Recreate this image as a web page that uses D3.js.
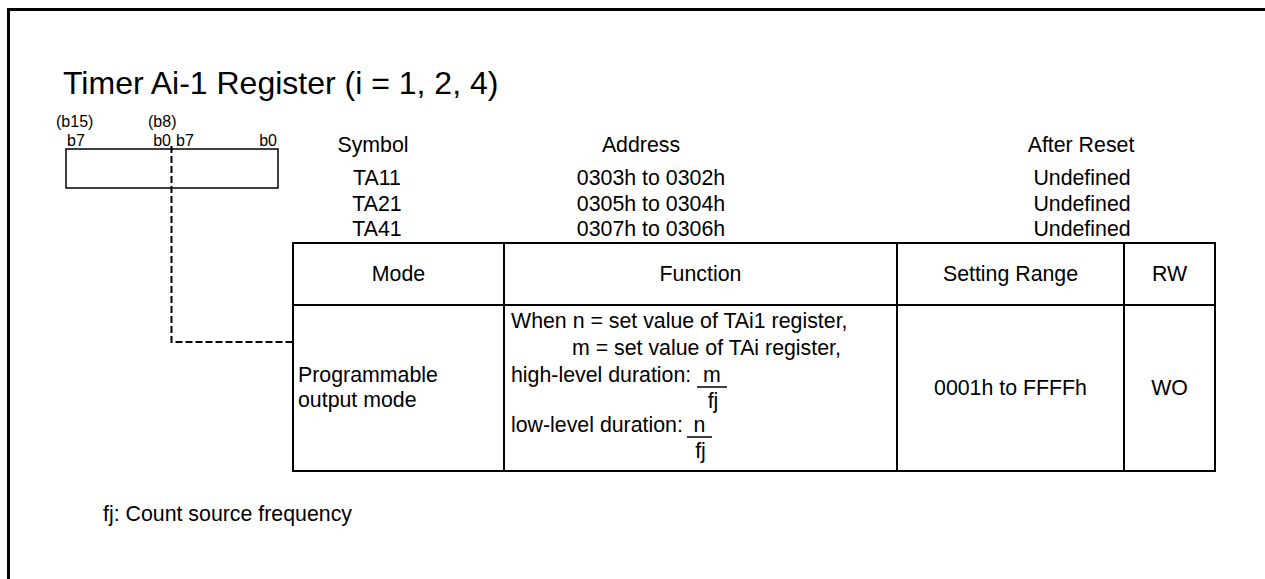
<!DOCTYPE html>
<html>
<head>
<meta charset="utf-8">
<script src="https://cdn.jsdelivr.net/npm/d3@7/dist/d3.min.js"></script>
<style>
html,body{margin:0;padding:0;background:#fff;}
svg text{font-family:"Liberation Sans",Arial,Helvetica,sans-serif;fill:#000;}
</style>
</head>
<body>
<svg id="c" width="1265" height="579"></svg>
<script>
// ---- data ----
const title = "Timer Ai-1 Register (i = 1, 2, 4)";
const bitUpper = ["(b15)", "(b8)"];
const bitLabels = ["b7", "b0", "b7", "b0"];
const infoHeaders = ["Symbol", "Address", "After Reset"];
const symbols = ["TA11", "TA21", "TA41"];
const addresses = ["0303h to 0302h", "0305h to 0304h", "0307h to 0306h"];
const afterReset = ["Undefined", "Undefined", "Undefined"];
const tableHeaders = ["Mode", "Function", "Setting Range", "RW"];
const modeLines = ["Programmable", "output mode"];
const functionLines = ["When n = set value of TAi1 register,", "m = set value of TAi register,", "high-level duration:", "low-level duration:"];
const fractions = [{num: "m", den: "fj"}, {num: "n", den: "fj"}];
const settingRange = "0001h to FFFFh";
const rw = "WO";
const footnote = "fj: Count source frequency";

// ---- layout ----
const svg = d3.select("#c");
const F = 21.33;

// frame
svg.append("path").attr("d", "M8.5,579 V9.5 H1265").attr("fill", "none").attr("stroke", "#000").attr("stroke-width", 3);

svg.append("text").attr("x", 63).attr("y", 94).attr("font-size", 32).text(title);

// register box
const bx = d3.scaleLinear().domain([0, 16]).range([66, 278]);
svg.append("rect").attr("x", bx(0)).attr("y", 149).attr("width", bx(16) - bx(0)).attr("height", 39)
  .attr("fill", "none").attr("stroke", "#000").attr("stroke-width", 1.5);
svg.selectAll("text.bu").data(bitUpper).join("text").attr("class", "bu")
  .attr("x", (d, i) => i === 0 ? 56 : 148).attr("y", 127).attr("font-size", 16).text(d => d);
const bitPos = [{x: bx(0) + 1, a: "start"}, {x: bx(8) - 1, a: "end"}, {x: bx(8) + 4, a: "start"}, {x: bx(16) - 1, a: "end"}];
svg.selectAll("text.bl").data(bitLabels).join("text").attr("class", "bl")
  .attr("x", (d, i) => bitPos[i].x).attr("y", 146).attr("text-anchor", (d, i) => bitPos[i].a)
  .attr("font-size", 16).text(d => d);

// dashed connector
const mid = bx(8) - 0.5;
svg.append("path").attr("d", `M${mid},146 V342 H293`).attr("fill", "none").attr("stroke", "#000")
  .attr("stroke-width", 2).attr("stroke-dasharray", "7,3");

// info block
const infoX = [373, 641, 1081];
const valX = [377, 651, 1082];
svg.selectAll("text.ih").data(infoHeaders).join("text").attr("class", "ih")
  .attr("x", (d, i) => infoX[i]).attr("y", 152).attr("text-anchor", "middle").attr("font-size", F).text(d => d);
const rowY = d3.scalePoint().domain(symbols).range([185, 236]);
[symbols, addresses, afterReset].forEach((col, ci) => {
  svg.selectAll(null).data(col).join("text")
    .attr("x", valX[ci]).attr("y", (d, i) => rowY(symbols[i])).attr("text-anchor", "middle")
    .attr("font-size", F).text(d => d);
});

// table
const colEdges = [293, 504, 897, 1124, 1215];
const rowEdges = [243, 305, 471];
const tg = svg.append("g").attr("stroke", "#000").attr("stroke-width", 2);
tg.append("rect").attr("x", colEdges[0]).attr("y", rowEdges[0]).attr("width", colEdges[4] - colEdges[0])
  .attr("height", rowEdges[2] - rowEdges[0]).attr("fill", "none");
tg.append("line").attr("x1", colEdges[0]).attr("x2", colEdges[4]).attr("y1", rowEdges[1]).attr("y2", rowEdges[1]);
colEdges.slice(1, 4).forEach(x => tg.append("line").attr("x1", x).attr("x2", x).attr("y1", rowEdges[0]).attr("y2", rowEdges[2]));

svg.selectAll("text.th").data(tableHeaders).join("text").attr("class", "th")
  .attr("x", (d, i) => (colEdges[i] + colEdges[i + 1]) / 2).attr("y", 281).attr("text-anchor", "middle")
  .attr("font-size", F).text(d => d);

svg.selectAll("text.ml").data(modeLines).join("text").attr("class", "ml")
  .attr("x", 298).attr("y", (d, i) => 382 + i * 25).attr("font-size", F).text(d => d);

const fY = [328, 355, 382, 432];
const fX = [511, 572, 511, 511];
svg.selectAll("text.fl").data(functionLines).join("text").attr("class", "fl")
  .attr("x", (d, i) => fX[i]).attr("y", (d, i) => fY[i]).attr("font-size", F).text(d => d);

const fracPos = [{x1: 697, x2: 727, y: 387}, {x1: 687, x2: 712, y: 437}];
fractions.forEach((f, i) => {
  const p = fracPos[i], cx = (p.x1 + p.x2) / 2;
  svg.append("text").attr("x", cx).attr("y", p.y - 5).attr("text-anchor", "middle").attr("font-size", F).text(f.num);
  svg.append("line").attr("x1", p.x1).attr("x2", p.x2).attr("y1", p.y).attr("y2", p.y).attr("stroke", "#000").attr("stroke-width", 1.5);
  svg.append("text").attr("x", cx + 1).attr("y", p.y + 21).attr("text-anchor", "middle").attr("font-size", F).text(f.den);
});

svg.append("text").attr("x", (colEdges[2] + colEdges[3]) / 2).attr("y", 395).attr("text-anchor", "middle").attr("font-size", F).text(settingRange);
svg.append("text").attr("x", (colEdges[3] + colEdges[4]) / 2).attr("y", 395).attr("text-anchor", "middle").attr("font-size", F).text(rw);

svg.append("text").attr("x", 103).attr("y", 521).attr("font-size", F).text(footnote);
</script>
</body>
</html>
